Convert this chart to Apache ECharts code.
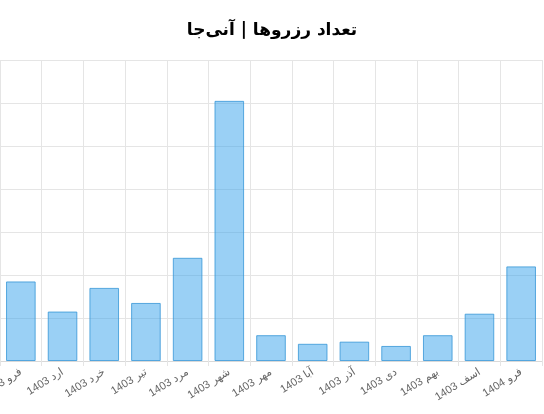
<!DOCTYPE html>
<html>
<head>
<meta charset="utf-8">
<script src="https://cdn.jsdelivr.net/npm/echarts@6/dist/echarts.min.js"></script>
<style>
html,body{margin:0;padding:0;background:#fff;}
#chart{width:544px;height:414px;}
</style>
</head>
<body>
<div id="chart"></div>
<script>
const titleText = 'تعداد رزروها | آنی‌جا';
const categories = ['فرو 1403','ارد 1403','خرد 1403','تیر 1403','مرد 1403','شهر 1403','مهر 1403','آبا 1403','آذر 1403','دی 1403','بهم 1403','اسف 1403','فرو 1404'];
const reservations = [37, 23, 34, 27, 48, 121, 12, 8, 9, 7, 12, 22, 44];
const yMin = 0, yMax = 140, yStep = 20;

const chart = echarts.init(document.getElementById('chart'));
chart.setOption({
  animation: false,
  backgroundColor: '#fff',
  title: {
    text: titleText,
    left: 'center',
    top: 17,
    textStyle: { fontFamily: 'DejaVu Sans', fontWeight: 'bold', fontSize: 17, color: '#000' }
  },
  grid: { left: 0, right: 2, top: 60, bottom: 53, containLabel: false, outerBoundsMode: 'none' },
  xAxis: {
    type: 'category',
    data: categories,
    boundaryGap: true,
    axisLine: { show: true, lineStyle: { color: '#d9d9d9' } },
    axisTick: { show: true, length: 5, lineStyle: { color: '#e5e5e5' } },
    splitLine: { show: true, lineStyle: { color: '#e5e5e5' } },
    axisLabel: {
      rotate: 32, interval: 0, margin: 10, hideOverlap: false,
      fontFamily: 'Liberation Sans, DejaVu Sans', fontSize: 11, color: '#666'
    }
  },
  yAxis: {
    type: 'value',
    min: yMin, max: yMax, interval: yStep,
    axisLabel: { show: false },
    axisLine: { show: false },
    axisTick: { show: false },
    splitLine: { show: true, lineStyle: { color: '#e5e5e5' } }
  },
  series: [{
    type: 'bar',
    data: reservations,
    barWidth: '71%',
    itemStyle: { color: 'rgba(54,162,235,0.5)', borderColor: 'rgba(54,150,215,0.8)', borderWidth: 1 }
  }]
});
</script>
</body>
</html>
